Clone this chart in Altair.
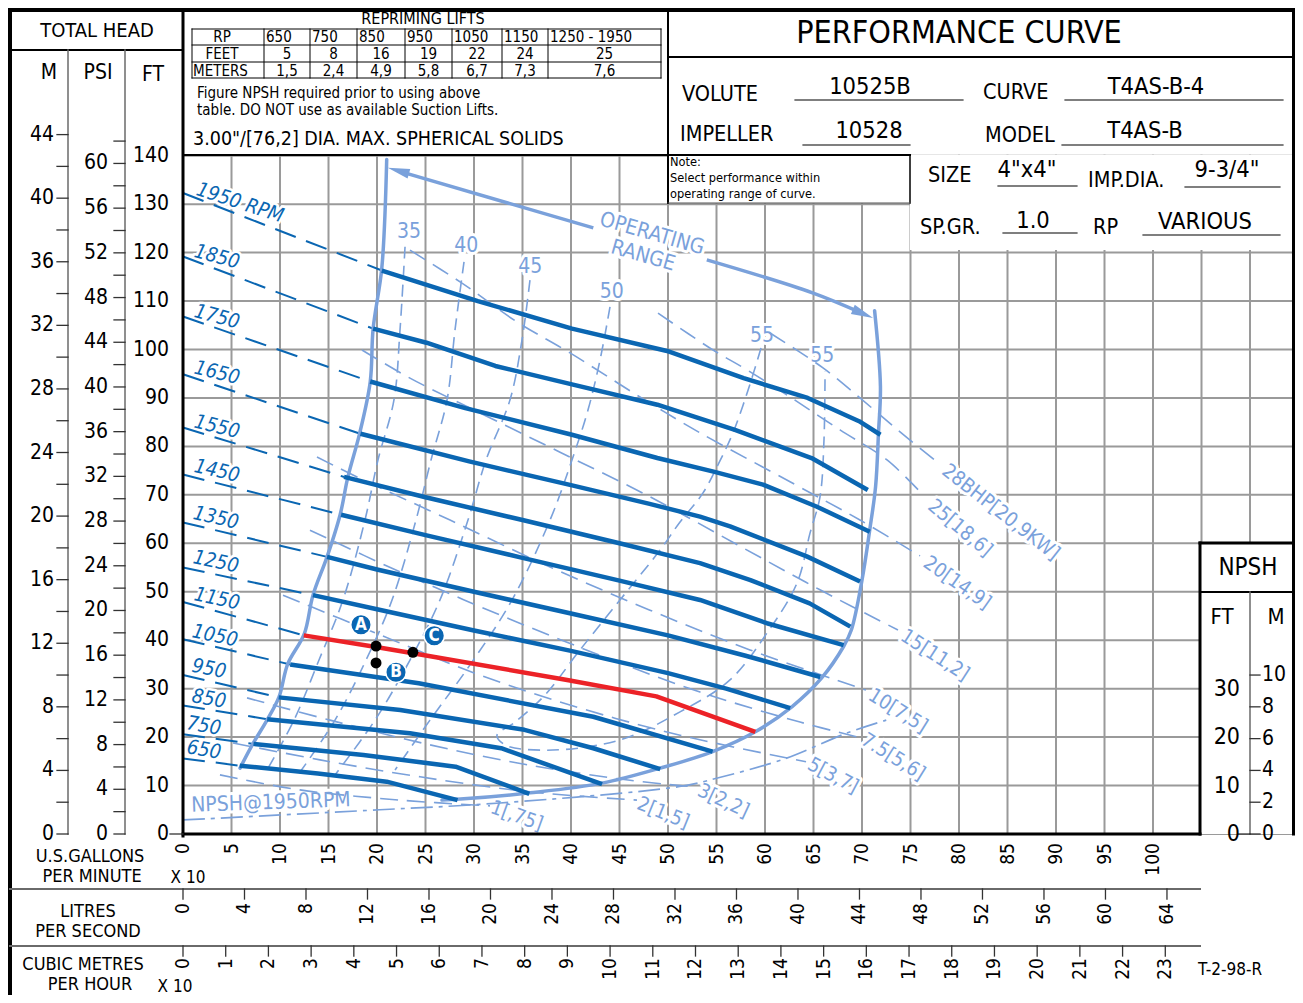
import altair as alt
import pandas as pd

FONT = "Liberation Sans Narrow, DejaVu Sans Condensed, Arial Narrow, sans-serif"
DB = "#0a66b2"
LB = "#7aa1db"
RED = "#ec2227"
GRID = "#9a9a9a"

# ---------------- data ----------------
# flow: U.S. GPM x 10 ; head: feet
RPMS = [1950, 1850, 1750, 1650, 1550, 1450, 1350, 1250, 1150, 1050, 950, 850, 750, 650]
RPM_TEXT = ["1950 RPM", "1850", "1750", "1650", "1550", "1450", "1350", "1250", "1150",
            "1050", "950", "850", "750", "650"]
SHUTOFF_FT = [132.3, 119.2, 106.8, 94.9, 83.9, 74.2, 64.3, 55.0, 47.9, 40.2, 32.8, 26.5, 20.6, 15.6]

HQ_1950 = [(20.5, 116.3), (30.4, 110.0), (40.1, 104.3), (49.9, 99.7), (57.8, 94.1), (64.4, 90.0), (69.7, 85.2), (71.9, 82.4)]
HQ_1850 = [(19.6, 104.3), (25.1, 101.4), (32.2, 96.6), (40.1, 92.8), (48.9, 88.6), (56.9, 83.4), (64.8, 77.6), (70.6, 71.0)]
HQ_1750 = [(19.3, 93.4), (29.1, 87.9), (40.1, 82.4), (48.9, 77.6), (54.7, 74.8), (59.8, 72.1), (65.3, 67.6), (70.8, 62.4)]
HQ_1650 = [(18.3, 82.6), (29.5, 76.9), (40.0, 72.0), (48.0, 68.2), (53.3, 65.5), (56.4, 63.5), (64.3, 57.3), (69.8, 52.1)]
HQ_1550 = [(16.6, 73.7), (25.0, 69.5), (35.0, 64.8), (45.0, 60.0), (53.3, 55.9), (58.5, 52.4), (64.6, 47.6), (68.8, 42.8)]
HQ_1450 = [(16.3, 65.9), (25.0, 61.7), (35.0, 57.0), (45.0, 52.3), (53.3, 48.3), (60.2, 43.5), (68.1, 39.0)]
HQ_1350 = [(14.85, 57.2), (20.0, 54.6), (30.0, 50.0), (40.0, 45.5), (50.0, 41.0), (58.0, 36.8), (65.7, 32.4)]
HQ_1250 = [(13.4, 49.3), (20.0, 46.4), (30.0, 42.0), (40.0, 37.8), (50.0, 33.2), (56.0, 30.0), (62.6, 26.0)]
HQ_1150 = [(12.45, 41.0), (19.9, 38.6), (23.7, 37.3), (39.6, 31.8), (48.8, 28.4), (59.0, 21.1)]
HQ_1050 = [(11.05, 35.0), (24.3, 31.1), (42.3, 24.2), (54.6, 17.0)]
HQ_950 = [(9.87, 28.2), (22.4, 25.6), (35.2, 21.5), (42.3, 17.7), (49.2, 13.4)]
HQ_850 = [(8.68, 23.7), (23.4, 20.8), (32.8, 17.7), (43.2, 10.3)]
HQ_750 = [(7.27, 18.6), (18.6, 16.3), (28.1, 13.9), (35.7, 8.3)]
HQ_650 = [(5.85, 14.1), (13.9, 12.5), (21.0, 10.8), (28.3, 7.0)]
HQ = [HQ_1950, HQ_1850, HQ_1750, HQ_1650, HQ_1550, HQ_1450, HQ_1350, HQ_1250,
      HQ_1150, HQ_1050, HQ_950, HQ_850, HQ_750, HQ_650]
SELECTED_RPM = 1150

# efficiency (%) lines
EFF_35 = [(22.89, 121.2), (22.37, 104.0), (21.75, 89.6), (20.10, 77.2), (18.76, 64.8), (16.49, 48.3), (14.02, 35.9), (11.44, 23.5), (8.66, 13.2)]
EFF_40 = [(28.97, 118.1), (28.04, 104.0), (27.22, 89.6), (25.57, 77.2), (24.02, 64.8), (21.55, 48.3), (18.87, 35.9), (15.67, 23.5), (11.86, 12.2)]
EFF_45 = [(35.77, 114.3), (34.95, 102.0), (33.71, 89.6), (31.24, 77.2), (29.38, 64.8), (26.49, 48.3), (23.40, 35.9), (19.79, 23.5), (15.67, 12.2)]
EFF_50 = [(44.02, 108.8), (42.99, 97.8), (41.75, 87.5), (40.10, 77.2), (37.84, 64.8), (33.92, 48.3), (29.59, 34.9), (25.46, 23.5), (21.86, 13.2)]
EFF_55 = [(59.59, 100.3), (58.25, 91.6), (56.70, 82.8), (55.15, 76.2), (53.61, 70.4), (51.24, 64.4), (49.18, 58.6),
          (45.05, 48.3), (40.93, 38.0), (37.32, 28.7), (34.23, 23.1), (32.37, 20.4), (33.20, 18.4), (37.53, 17.3),
          (45.05, 19.4), (51.24, 25.2), (56.39, 31.8), (60.21, 41.5), (63.30, 51.8), (64.64, 62.1), (65.67, 69.6),
          (66.08, 81.3), (66.19, 95.4)]
EFF_LINES = [EFF_35, EFF_40, EFF_45, EFF_50, EFF_55]
EFF_TEXT = ["35", "40", "45", "50", "55", "55"]
EFF_TEXT_POS = [(23.3, 124.3), (29.2, 121.4), (35.8, 117.1), (44.2, 111.8), (59.7, 102.7), (65.9, 98.6)]

# brake horsepower lines
BHP_28 = [(60.52, 103.4), (65.98, 96.2), (69.79, 90.0), (73.92, 83.0), (77.73, 76.8)]
BHP_25 = [(48.97, 107.5), (54.64, 99.9), (58.14, 95.8), (62.58, 90.2), (67.73, 83.4), (72.58, 77.2), (76.19, 70.2)]
BHP_20 = [(23.40, 120.5), (28.76, 113.7), (34.43, 105.7), (39.90, 99.3), (47.11, 90.2), (53.30, 82.8), (62.58, 72.7), (69.79, 64.8), (75.98, 57.4)]
BHP_15 = [(18.45, 99.9), (23.40, 94.1), (30.62, 86.9), (38.87, 78.8), (48.14, 69.6), (57.42, 59.4), (65.67, 50.4), (73.71, 42.1)]
BHP_10 = [(13.81, 77.8), (18.56, 73.1), (27.53, 64.8), (37.84, 55.1), (48.14, 46.2), (58.45, 38.0), (70.41, 29.7)]
BHP_7_5 = [(13.09, 62.7), (22.37, 54.1), (32.68, 45.2), (42.99, 36.9), (53.30, 29.3), (63.61, 23.1), (69.59, 20.0)]
BHP_5 = [(10.31, 49.3), (20.31, 41.1), (30.62, 32.8), (40.93, 26.0), (51.24, 20.4), (64.23, 14.9)]
BHP_3 = [(6.60, 28.1), (15.15, 23.5), (25.46, 18.4), (35.77, 14.2), (46.08, 11.1), (52.78, 9.7)]
BHP_2 = [(5.15, 18.8), (14.12, 15.3), (24.43, 11.8), (35.77, 8.7), (46.80, 7.0)]
BHP_1 = [(3.81, 12.2), (12.06, 9.1), (22.37, 7.0), (31.65, 5.8)]
BHP_LINES = [BHP_28, BHP_25, BHP_20, BHP_15, BHP_10, BHP_7_5, BHP_5, BHP_3, BHP_2, BHP_1]
BHP_TEXT = ["28BHP[20,9KW]", "25[18,6]", "20[14,9]", "15[11,2]", "10[7,5]", "7.5[5,6]",
            "5[3,7]", "3[2,2]", "2[1,5]", "1[,75]"]
BHP_TEXT_POS = [(84.3, 66.4), (80.1, 63.1), (79.8, 51.8), (77.5, 36.9), (73.7, 25.4),
                (73.2, 15.9), (67.0, 12.0), (55.7, 6.8), (49.5, 4.3), (34.4, 3.7)]
BHP_TEXT_ANGLE = [38, 40, 35, 33, 32, 32, 28, 25, 22, 20]

# NPSH required at 1950 rpm (ft)
NPSH_1950 = [(0.0, 2.9), (20.3, 5.0), (32.7, 6.4), (51.2, 9.8), (55.0, 11.5), (62.0, 15.5), (68.4, 20.8), (72.5, 23.5)]

# operating range outline
OR_LEFT = [(5.88, 13.6), (7.2, 18.6), (8.66, 23.5), (9.9, 28.3), (10.8, 35.1), (12.5, 41.3), (13.4, 49.3),
           (14.85, 57.2), (16.2, 65.9), (17.0, 73.7), (18.2, 82.6), (19.3, 93.3), (19.6, 104.3), (20.5, 116.9), (21.0, 139.2)]
OR_RIGHT = [(71.3, 108.0), (71.9, 92.4), (71.7, 82.8), (71.4, 71.7), (70.8, 62.8), (70.0, 52.4), (68.9, 42.1),
            (68.1, 38.7), (65.8, 32.1), (62.8, 26.3), (59.0, 21.1), (54.6, 17.0), (49.2, 13.6), (43.2, 10.5),
            (35.8, 8.5), (28.6, 7.2), (26.7, 7.0)]
OR_ARROW_L = [(42.3, 125.1), (22.6, 136.6)]
OR_ARROW_R = [(54.0, 118.5), (64.9, 111.7), (70.0, 107.5)]
OR_HEADS = [(22.2, 136.9, 286), (70.1, 107.4, 113)]

# selection points A, B, C
DOTS = [(19.9, 38.8), (19.9, 35.3), (23.7, 37.5)]
BADGES = [("A", 18.35, 43.2), ("B", 21.96, 33.4), ("C", 25.9, 40.9)]

# axes
FT_PER_M = 3.2808
FT_PER_PSI = 2.3067
M_LABELS = list(range(0, 45, 4))
M_TICKS = list(range(0, 45, 2))
PSI_LABELS = list(range(0, 61, 4))
PSI_TICKS = list(range(0, 63, 2))
FT_LABELS = list(range(0, 141, 10))
GPM_LABELS = list(range(0, 101, 5))
GPM_PER_LPS = 15.850
LPS_LABELS = list(range(0, 65, 4))
GPM_PER_M3H = 4.4029
M3H_LABELS = list(range(0, 24))
NPSH_FT_LABELS = [0, 10, 20, 30]
NPSH_M_LABELS = [0, 2, 4, 6, 8, 10]
GRID_X = list(range(0, 115, 5))
GRID_Y = list(range(0, 141, 10))

# repriming lift table
RP_COLS = ["650", "750", "850", "950", "1050", "1150", "1250 - 1950"]
LIFT_FT = ["5", "8", "16", "19", "22", "24", "25"]
LIFT_M = ["1,5", "2,4", "4,9", "5,8", "6,7", "7,3", "7,6"]

# ---------------- frame ----------------
W, H = 1287, 987
RIGHT = 1294  # right edge of the drawing frame (page px)


def gx(px):
    return (px - 183) / 9.7


def gy(py):
    return (834 - py) / 4.845


XS = alt.Scale(domain=[gx(8), gx(8 + W)], nice=False, zero=False)
YS = alt.Scale(domain=[gy(8 + H), gy(8)], nice=False, zero=False)
EX = alt.X("x:Q", scale=XS, axis=None)
EY = alt.Y("y:Q", scale=YS, axis=None)

layers = []


def add_rules(rows):
    df = pd.DataFrame(rows, columns=["x", "y", "x2", "y2", "w", "c"])
    layers.append(alt.Chart(df).mark_rule(strokeCap="square").encode(
        x=EX, y=EY, x2="x2:Q", y2="y2:Q",
        strokeWidth=alt.StrokeWidth("w:Q", scale=None, legend=None),
        color=alt.Color("c:N", scale=None, legend=None)))


def add_lines(series, color, width, dash=None, interp="linear", cap="butt"):
    rows = []
    for g, pts in enumerate(series):
        for i, (x, y) in enumerate(pts):
            rows.append({"g": g, "i": i, "x": x, "y": y})
    kw = dict(color=color, strokeWidth=width, strokeCap=cap, strokeJoin="round", interpolate=interp)
    if dash:
        kw["strokeDash"] = dash
    layers.append(alt.Chart(pd.DataFrame(rows)).mark_line(**kw).encode(
        x=EX, y=EY, detail="g:N", order="i:Q"))


def add_rects(rows, color):
    df = pd.DataFrame(rows, columns=["x", "x2", "y", "y2"])
    layers.append(alt.Chart(df).mark_rect(color=color).encode(x=EX, x2="x2:Q", y=EY, y2="y2:Q"))


def add_text(rows, align="center", baseline="middle", style="normal", weight="normal", halo=0):
    df = pd.DataFrame(rows, columns=["x", "y", "t", "s", "a", "c"])
    enc = dict(x=EX, y=EY, text="t:N",
               size=alt.Size("s:Q", scale=None, legend=None),
               angle=alt.Angle("a:Q", scale=None))
    if halo:
        layers.append(alt.Chart(df).mark_text(
            align=align, baseline=baseline, font=FONT, fontStyle=style, fontWeight=weight,
            stroke="white", strokeWidth=halo, strokeJoin="round", color="white").encode(**enc))
    layers.append(alt.Chart(df).mark_text(
        align=align, baseline=baseline, font=FONT, fontStyle=style, fontWeight=weight).encode(
        color=alt.Color("c:N", scale=None, legend=None), **enc))


def T(px, py, text, size, angle=0, color="black"):
    return (gx(px), gy(py), text, size, angle, color)


# grid
grid = [(x, 0, x, 140, 2, GRID) for x in GRID_X]
grid += [(0, y, gx(RIGHT), y, 2, GRID) for y in GRID_Y]
add_rules(grid)

# white panels over grid
add_rects([(gx(668), gx(910), gy(203), gy(155)),
           (gx(910), gx(RIGHT), gy(250), gy(155)),
           (gx(1200), gx(RIGHT), gy(834), gy(543))], "white")

# labels inside plot (halo first so lines stay on top)
rpm_pos = [(240, 203, 18), (217, 257, 15), (217, 317, 15), (217, 373, 14), (217, 427, 14), (217, 471, 13),
           (216, 518, 13), (216, 562, 12), (217, 599, 12), (215, 636, 12), (209, 669, 11), (209, 699, 10),
           (204, 726, 10), (204, 750, 10)]
add_text([T(p[0], p[1], t, 20, p[2], DB) for t, p in zip(RPM_TEXT, rpm_pos)], style="italic", halo=5)
add_text([(p[0], p[1], t, 21, 0, LB) for t, p in zip(EFF_TEXT, EFF_TEXT_POS)], halo=6)
add_text([(p[0], p[1], t, 20, a, LB) for t, p, a in zip(BHP_TEXT, BHP_TEXT_POS, BHP_TEXT_ANGLE)], halo=6)
add_text([T(652, 234, "OPERATING", 21, 16, LB), T(643, 256, "RANGE", 21, 16, LB),
          T(271, 803, "NPSH@1950RPM", 21, 358, LB)], halo=6)

# thin light-blue lines
add_lines(EFF_LINES, LB, 1.6, dash=[12, 7], interp="catmull-rom")
add_lines(BHP_LINES, LB, 1.6, dash=[18, 9], interp="catmull-rom")
add_lines([NPSH_1950], LB, 1.7, dash=[22, 6, 4, 6], interp="catmull-rom")

# dashed shut-off extensions of each speed curve
add_lines([[(0.0, h), c[0]] for h, c in zip(SHUTOFF_FT, HQ)], DB, 2, dash=[22, 11])

# operating range
add_lines([OR_LEFT, OR_RIGHT], LB, 3.5, interp="catmull-rom", cap="round")
add_lines([OR_ARROW_L, OR_ARROW_R], LB, 3.5, interp="catmull-rom")
heads = pd.DataFrame(OR_HEADS, columns=["x", "y", "ang"])
layers.append(alt.Chart(heads).mark_point(
    shape="M0,-1L0.45,1L-0.45,1Z", filled=True, size=484, color=LB, opacity=1).encode(
    x=EX, y=EY, angle=alt.Angle("ang:Q", scale=None)))

# speed curves
add_lines([c for r, c in zip(RPMS, HQ) if r != SELECTED_RPM], DB, 4.5)
add_lines([c for r, c in zip(RPMS, HQ) if r == SELECTED_RPM], RED, 4.5)

# markers
layers.append(alt.Chart(pd.DataFrame(DOTS, columns=["x", "y"])).mark_circle(
    size=120, color="black", opacity=1).encode(x=EX, y=EY))
bdf = pd.DataFrame(BADGES, columns=["t", "x", "y"])
layers.append(alt.Chart(bdf).mark_circle(size=420, color=DB, opacity=1, stroke="white", strokeWidth=1.5).encode(x=EX, y=EY))
layers.append(alt.Chart(bdf).mark_text(font=FONT, fontWeight="bold", fontSize=17, color="white",
                                       align="center", baseline="middle").encode(x=EX, y=EY, text="t:N"))

# frame lines
K = "black"
G2 = "#6a6a6a"
frame = [
    (gx(10), gy(8), gx(10), gy(1003), 4, K),
    (gx(8), gy(10), gx(RIGHT + 1), gy(10), 4, K),
    (gx(RIGHT - 0.5), gy(8), gx(RIGHT - 0.5), gy(834), 3, K),
    (gx(10), gy(50), gx(183), gy(50), 2, K),
    (gx(183), gy(10), gx(183), gy(836), 3, K),
    (gx(668), gy(10), gx(668), gy(203), 2, K),
    (gx(183), gy(155), gx(910), gy(155), 2, K),
    (gx(910), gy(155), gx(910), gy(203), 1.5, K),
    (gx(668), gy(203), gx(910), gy(203), 1, "#555"),
    (gx(668), gy(57), gx(RIGHT), gy(57), 2, K),
    (gx(183), gy(834), gx(1200), gy(834), 3, K),
    (gx(1200), gy(543), gx(1200), gy(834), 3, K),
    (gx(1200), gy(543), gx(RIGHT), gy(543), 3, K),
    (gx(1200), gy(592), gx(RIGHT), gy(592), 2, K),
    (gx(68), gy(50), gx(68), gy(834), 1.5, G2),
    (gx(125), gy(50), gx(125), gy(834), 1.5, G2),
    (gx(1250), gy(592), gx(1250), gy(834), 1.5, G2),
    (gx(10), gy(889), gx(1200), gy(889), 2, G2),
    (gx(10), gy(946), gx(1200), gy(946), 2, G2),
]
# underlines in title block
for a, b, c in [(795, 963, 100), (1065, 1283, 100), (803, 910, 145), (1062, 1283, 145),
                (998, 1077, 186), (1185, 1280, 187), (1003, 1077, 233), (1143, 1280, 235)]:
    frame.append((gx(a), gy(c), gx(b), gy(c), 1.2, K))
# repriming table
for yy in [29, 45, 62, 78]:
    frame.append((gx(192), gy(yy), gx(661), gy(yy), 1, K))
for xx in [192, 264, 310, 357, 405, 452, 502, 548, 661]:
    frame.append((gx(xx), gy(29), gx(xx), gy(78), 1, K))
# axis ticks
TK = "#333"
frame += [(gx(57), v * FT_PER_M, gx(68), v * FT_PER_M, 1.3, TK) for v in M_TICKS]
frame += [(gx(114), v * FT_PER_PSI, gx(125), v * FT_PER_PSI, 1.3, TK) for v in PSI_TICKS]
frame.append((gx(170), 0, gx(183), 0, 1.3, TK))
frame += [(gx(1250), v * FT_PER_M, gx(1260), v * FT_PER_M, 1.3, TK) for v in NPSH_M_LABELS]
frame.append((gx(1238), 0, gx(1250), 0, 1.3, TK))
frame += [(v * GPM_PER_LPS / 10, gy(889), v * GPM_PER_LPS / 10, gy(899), 1.3, TK) for v in LPS_LABELS]
frame += [(v * GPM_PER_M3H, gy(946), v * GPM_PER_M3H, gy(956), 1.3, TK) for v in M3H_LABELS]
add_rules(frame)

# header / block texts
add_text([
    T(97, 31, "TOTAL HEAD", 20), T(49, 73, "M", 21), T(98, 73, "PSI", 21), T(153, 75, "FT", 21),
    T(423, 19, "REPRIMING LIFTS", 16), T(222, 37, "RP", 15), T(222, 54, "FEET", 15),
    T(959, 33, "PERFORMANCE CURVE", 32),
    T(870, 87, "10525B", 23.5), T(1156, 87, "T4AS-B-4", 23.5), T(869, 131, "10528", 23.5), T(1145, 131, "T4AS-B", 23.5),
    T(1027, 170, '4"x4"', 23.5), T(1227, 170, '9-3/4"', 23.5), T(1033, 221, "1.0", 23.5), T(1205, 222, "VARIOUS", 23.5),
    T(90, 857, "U.S.GALLONS", 18), T(92, 877, "PER MINUTE", 18), T(188, 878, "X 10", 17),
    T(88, 912, "LITRES", 18), T(88, 932, "PER SECOND", 18),
    T(83, 965, "CUBIC METRES", 18), T(90, 985, "PER HOUR", 18), T(175, 987, "X 10", 17),
    T(1230, 970, "T-2-98-R", 17),
    T(1248, 568, "NPSH", 24), T(1222, 617, "FT", 22), T(1276, 617, "M", 22),
] + [T(c, 54, t, 15) for c, t in zip([287, 333.5, 381, 428.5, 477, 525, 604.5], LIFT_FT)]
  + [T(c, 71, t, 15) for c, t in zip([287, 333.5, 381, 428.5, 477, 525, 604.5], LIFT_M)])

add_text([
    T(193, 71, "METERS", 15),
    T(197, 93, "Figure NPSH required prior to using above", 15),
    T(197, 110, "table. DO NOT use as available Suction Lifts.", 15),
    T(193, 139, '3.00"/[76,2] DIA. MAX. SPHERICAL SOLIDS', 19.5),
    T(682, 95, "VOLUTE", 21.5), T(983, 93, "CURVE", 21.5), T(680, 135, "IMPELLER", 21.5), T(985, 136, "MODEL", 21.5),
    T(928, 176, "SIZE", 21.5), T(1088, 181, "IMP.DIA.", 21.5), T(920, 228, "SP.GR.", 21.5), T(1093, 228, "RP", 21.5),
    T(670, 162, "Note:", 12.7), T(670, 178, "Select performance within", 12.7),
    T(670, 194, "operating range of curve.", 12.7),
] + [T(l, 37, t, 15) for l, t in zip([266, 312, 359, 407, 454, 504, 550], RP_COLS)]
  + [(gx(1262), v * FT_PER_M, str(v), 21, 0, "black") for v in NPSH_M_LABELS], align="left")

add_text([(gx(54), v * FT_PER_M, str(v), 21, 0, "black") for v in M_LABELS]
         + [(gx(108), v * FT_PER_PSI, str(v), 21, 0, "black") for v in PSI_LABELS]
         + [(gx(169), v, str(v), 21, 0, "black") for v in FT_LABELS]
         + [(gx(1240), v, str(v), 23, 0, "black") for v in NPSH_FT_LABELS], align="right")

add_text([(v, gy(843), str(v), 19, 270, "black") for v in GPM_LABELS]
         + [(v * GPM_PER_LPS / 10, gy(903), str(v), 19, 270, "black") for v in LPS_LABELS]
         + [(v * GPM_PER_M3H, gy(958), str(v), 19, 270, "black") for v in M3H_LABELS], align="right")

chart = alt.layer(*layers).properties(
    width=W, height=H, padding=0, autosize=alt.AutoSizeParams(type="none")
).configure_view(strokeWidth=0)

chart.save("out.html", embed_options={"renderer": "svg", "actions": False})
